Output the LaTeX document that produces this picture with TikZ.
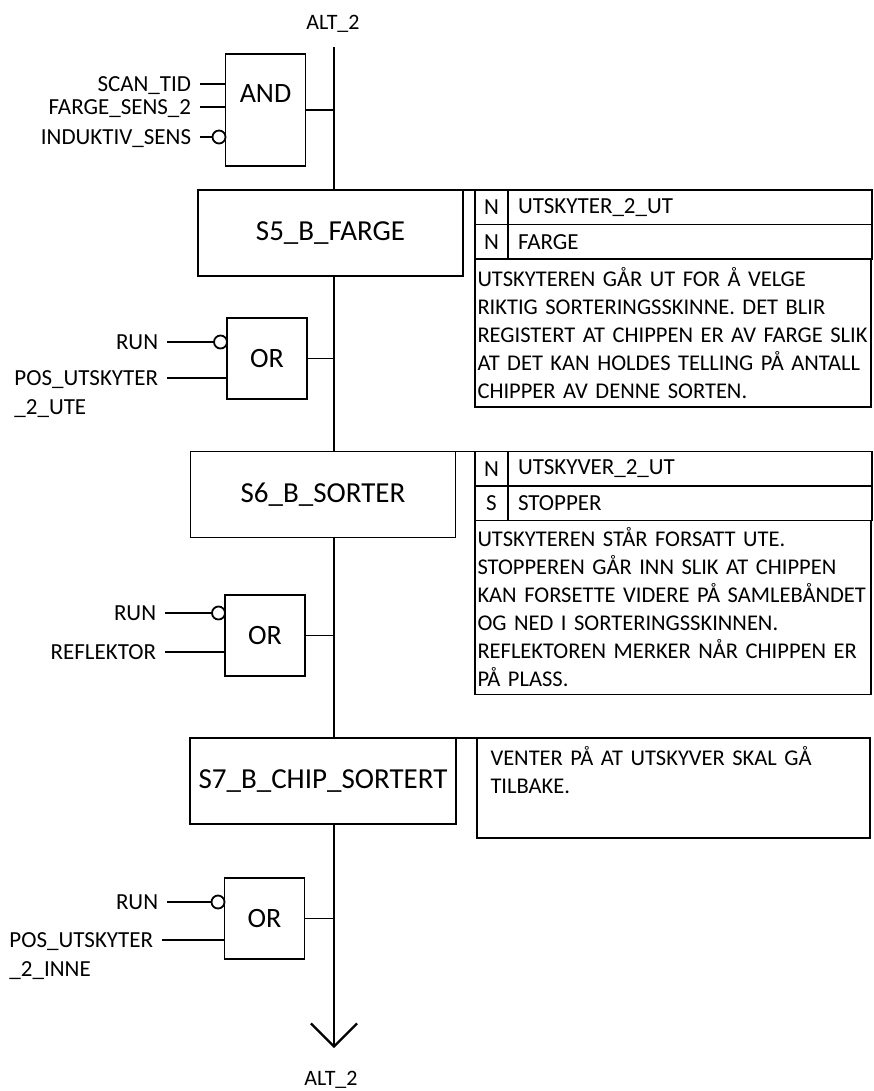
\documentclass[tikz,border=0pt]{standalone}
\usepackage{fontspec}
\setmainfont{Carlito}
\usetikzlibrary{arrows.meta,positioning}

\tikzset{
  stepbox/.style={draw, outer sep=0pt, minimum width=265pt, minimum height=86pt, inner sep=0pt, font=\fontsize{29}{35}\selectfont},
  gate/.style={draw, minimum width=80pt, minimum height=81pt, inner sep=0pt, font=\fontsize{28}{34}\selectfont},
  sig/.style={anchor=east, inner xsep=8pt, inner ysep=0pt, text height=15pt, text depth=0pt, font=\fontsize{23}{28}\selectfont},
  neg/.style={draw, circle, minimum size=13pt, inner sep=0pt},
  qual/.style={draw, outer sep=0pt, minimum width=33pt, minimum height=34.5pt, inner sep=0pt, font=\fontsize{23}{28}\selectfont},
  act/.style={draw, outer sep=0pt, minimum height=34.5pt, inner xsep=10pt, inner ysep=0pt, text width=344pt, align=left, font=\fontsize{23}{28}\selectfont},
  desc/.style={draw, outer sep=0pt, inner xsep=2.5pt, text width=391pt, align=left, font=\fontsize{22.5}{28}\selectfont},
  alt/.style={font=\fontsize{22}{26}\selectfont},
  bus/.style={line width=2.2pt}
}

\begin{document}
\begin{tikzpicture}[x=1pt, y=-1pt, line width=1.8pt]
\useasboundingbox (0,0) rectangle (874,1091);

\node[alt] (alttop) at (333,24) {ALT\_2};
\coordinate (top) at (334,47);
\coordinate (bot) at (334,1048);
\node[alt] (altbot) at (331,1080) {ALT\_2};

% overgang inn til S5
\node[gate, minimum height=112pt, text depth=32pt] (and) at (265.5,110) {AND};
\node[sig] (scan) at (200,84) {SCAN\_TID};
\node[sig] (farge) at (200,107) {FARGE\_SENS\_2};
\node[sig] (ind) at (200,137) {INDUKTIV\_SENS};
\node[neg] (negind) at (219,137) {};
\draw[line width=2.4pt] (scan.east) -- (scan.east -| and.west);
\draw (farge.east) -- (farge.east -| and.west);
\draw (ind.east) -- (negind.west);
\draw (and.east) -- (and.east -| top);

% S5
\node[stepbox] (s5) at (330.5,233) {S5\_B\_FARGE};
\node[qual, anchor=north west] (s5q1) at (475,190) {N};
\node[act, right=0pt of s5q1] (s5a1) {UTSKYTER\_2\_UT};
\node[qual, below=0pt of s5q1] (s5q2) {N};
\node[act, right=0pt of s5q2] (s5a2) {FARGE};
\node[desc, anchor=north west, minimum height=148pt] (s5d) at (s5q2.south west)
  {UTSKYTEREN GÅR UT FOR Å VELGE\\RIKTIG SORTERINGSSKINNE. DET BLIR\\REGISTERT AT CHIPPEN ER AV FARGE SLIK\\AT DET KAN HOLDES TELLING PÅ ANTALL\\CHIPPER AV DENNE SORTEN.};
\draw (s5.north east) -- (s5q1.north west);

% overgang S5 -> S6
\node[gate] (or1) at (267,358.5) {OR};
\node[sig] (run1) at (167,342) {RUN};
\node[neg] (negrun1) at (220.5,342) {};
\node[sig, label={[sig, anchor=north west, yshift=-12pt]south west:\_2\_UTE}] (pos1) at (167,378) {POS\_UTSKYTER};
\draw (run1.east) -- (negrun1.west);
\draw (pos1.east) -- (pos1.east -| or1.west);
\draw (or1.east) -- (or1.east -| top);

% S6
\node[stepbox] (s6) at (323,494.5) {S6\_B\_SORTER};
\node[qual, anchor=north west] (s6q1) at (475,451.5) {N};
\node[act, right=0pt of s6q1] (s6a1) {UTSKYVER\_2\_UT};
\node[qual, below=0pt of s6q1] (s6q2) {S};
\node[act, right=0pt of s6q2] (s6a2) {STOPPER};
\node[desc, anchor=north west, minimum height=174pt] (s6d) at (s6q2.south west)
  {UTSKYTEREN STÅR FORSATT UTE.\\STOPPEREN GÅR INN SLIK AT CHIPPEN\\KAN FORSETTE VIDERE PÅ SAMLEBÅNDET\\OG NED I SORTERINGSSKINNEN.\\REFLEKTOREN MERKER NÅR CHIPPEN ER\\PÅ PLASS.};
\draw (s6.north east) -- (s6q1.north west);

% overgang S6 -> S7
\node[gate] (or2) at (265,635.5) {OR};
\node[sig] (run2) at (165,613) {RUN};
\node[neg] (negrun2) at (218.5,613) {};
\node[sig] (refl) at (165,652) {REFLEKTOR};
\draw (run2.east) -- (negrun2.west);
\draw (refl.east) -- (refl.east -| or2.west);
\draw (or2.east) -- (or2.east -| top);

% S7
\node[stepbox, minimum width=266pt] (s7) at (323,781) {S7\_B\_CHIP\_SORTERT};
\node[desc, anchor=north west, text width=366pt, inner xsep=13.5pt, minimum height=100pt] (s7d) at (477,738)
  {VENTER PÅ AT UTSKYVER SKAL GÅ\\TILBAKE.\\\strut};
\draw (s7.north east) -- (s7d.north west);

% overgang ut fra S7
\node[gate] (or3) at (264.5,918.5) {OR};
\node[sig] (run3) at (167,902) {RUN};
\node[neg] (negrun3) at (218,902) {};
\node[sig, label={[sig, anchor=north west, yshift=-12pt]south west:\_2\_INNE}] (pos3) at (162,940) {POS\_UTSKYTER};
\draw (run3.east) -- (negrun3.west);
\draw[line width=2.4pt] (pos3.east) -- (pos3.east -| or3.west);
\draw (or3.east) -- (or3.east -| top);

% hovedlinje
\draw[bus] (top) -- (top |- s5.north);
\draw[bus] (top |- s5.south) -- (top |- s6.north);
\draw[bus] (top |- s6.south) -- (top |- s7.north);
\draw[bus, -{Straight Barb[length=23pt, width=46pt]}] (top |- s7.south) -- (bot);
\end{tikzpicture}
\end{document}
